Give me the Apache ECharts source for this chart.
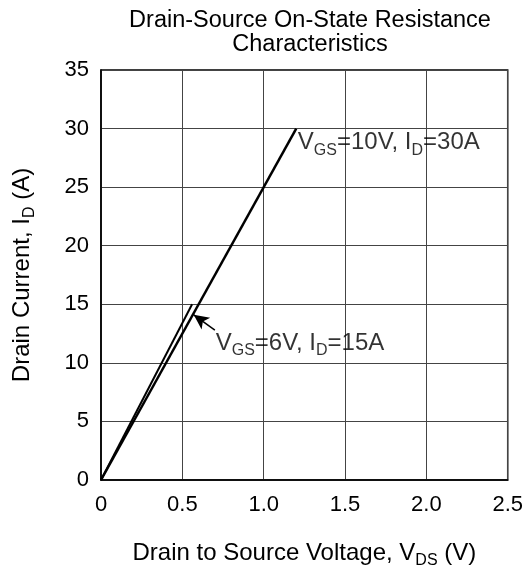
<!DOCTYPE html>
<html>
<head>
<meta charset="utf-8">
<script src="https://cdn.jsdelivr.net/npm/echarts@6/dist/echarts.min.js"></script>
<style>
  html, body { margin: 0; padding: 0; background: #fff; }
  #main { width: 526px; height: 574px; }
</style>
</head>
<body>
<div id="main"></div>
<script>
// curves: [Vds, Id]
var vgs10 = [[0, 0], [1.2, 30]];
var vgs6 = [[0, 0], [0.56, 15]];

// annotation anchors [Vds, Id]
var label10Pos = [1.21, 28.8];
var label6Pos = [0.705, 11.7];
var arrow6 = [[0.70, 12.8], [0.57, 14.1]];

var xTicks = ['0', '0.5', '1.0', '1.5', '2.0', '2.5'];

var font = 'Liberation Sans, Arial, sans-serif';
var subStyle = { fontSize: 16, fontFamily: font, color: '#000', verticalAlign: 'bottom', padding: [0, 0, -4, 0] };
var mainStyle = { fontSize: 24, fontFamily: font, color: '#000' };

var myChart = echarts.init(document.getElementById('main'));
var option = {
    backgroundColor: '#fff',
    animation: false,
    title: {
        text: 'Drain-Source On-State Resistance\nCharacteristics',
        left: 305,
        textAlign: 'center',
        top: 4,
        textStyle: { fontFamily: font, fontSize: 23.5, fontWeight: 'normal', color: '#000', lineHeight: 24 }
    },
    grid: {
        left: 101, right: 10, top: 70, bottom: 89,
        show: true, borderColor: '#000', borderWidth: 1.5
    },
    xAxis: {
        type: 'value', min: 0, max: 2.5, interval: 0.5,
        name: '{m|Drain to Source Voltage, V}{s|DS}{m| (V)}',
        nameLocation: 'middle', nameGap: 61,
        nameTextStyle: { rich: { m: mainStyle, s: subStyle } },
        axisLine: { show: true, lineStyle: { color: '#000', width: 1.5 } },
        axisTick: { show: false },
        axisLabel: {
            fontFamily: font, fontSize: 22, color: '#000', margin: 14,
            formatter: function (v) { return xTicks[Math.round(v / 0.5)]; }
        },
        splitLine: { show: true, lineStyle: { color: '#444', width: 1 } }
    },
    yAxis: {
        type: 'value', min: 0, max: 35, interval: 5,
        name: '{m|Drain Current, I}{s|D}{m| (A)}',
        nameLocation: 'middle', nameGap: 67, nameRotate: 90,
        nameTextStyle: { rich: { m: mainStyle, s: subStyle } },
        axisLine: { show: true, lineStyle: { color: '#000', width: 1.5 } },
        axisTick: { show: false },
        axisLabel: { fontFamily: font, fontSize: 22, color: '#000', margin: 12 },
        splitLine: { show: true, lineStyle: { color: '#444', width: 1 } }
    },
    series: [
        {
            name: 'VGS=10V',
            type: 'line',
            data: vgs10,
            symbol: 'none',
            lineStyle: { color: '#000', width: 2.5 }
        },
        {
            name: 'VGS=6V',
            type: 'line',
            data: vgs6,
            symbol: 'none',
            lineStyle: { color: '#000', width: 2 },
            markLine: {
                silent: true,
                symbol: ['none', 'arrow'],
                symbolSize: [11, 15],
                label: { show: false },
                lineStyle: { color: '#000', width: 1.5, type: 'solid' },
                data: [[{ coord: arrow6[0] }, { coord: arrow6[1] }]]
            }
        },
        {
            type: 'scatter',
            symbolSize: 0,
            silent: true,
            data: [
                { value: label10Pos, label: { formatter: '{m|V}{s|GS}{m|=10V, I}{s|D}{m|=30A}' } },
                { value: label6Pos, label: { formatter: '{m|V}{s|GS}{m|=6V, I}{s|D}{m|=15A}' } }
            ],
            label: {
                show: true, position: 'right', distance: 0,
                rich: { m: mainStyle, s: subStyle }
            }
        }
    ]
};
myChart.setOption(option);
</script>
</body>
</html>
